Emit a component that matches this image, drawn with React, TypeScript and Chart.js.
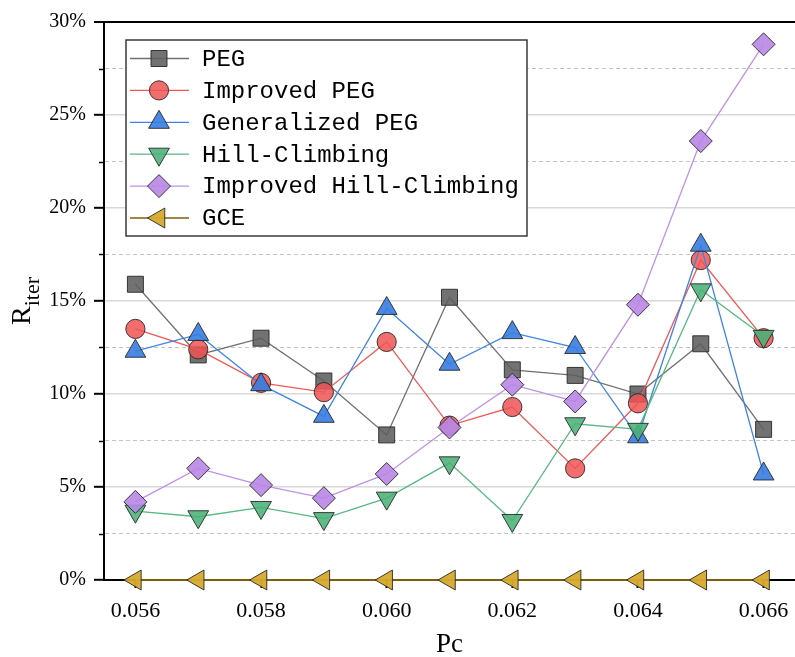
import React, { useEffect, useRef } from 'react';
import { Chart, registerables } from 'chart.js';
import { drawPoint } from 'chart.js/helpers';

Chart.register(...registerables);

// ---- data ----
const pcValues = [0.056, 0.057, 0.058, 0.059, 0.060, 0.061, 0.062, 0.063, 0.064, 0.065, 0.066];
const xTickValues = [0.056, 0.058, 0.060, 0.062, 0.064, 0.066];
const seriesNames = ['PEG', 'Improved PEG', 'Generalized PEG', 'Hill-Climbing', 'Improved Hill-Climbing', 'GCE'];
const pegValues = [15.9, 12.1, 13.0, 10.7, 7.8, 15.2, 11.3, 11.0, 10.0, 12.7, 8.1];
const improvedPegValues = [13.5, 12.4, 10.6, 10.1, 12.8, 8.3, 9.3, 6.0, 9.5, 17.2, 13.0];
const generalizedPegValues = [12.3, 13.2, 10.5, 8.8, 14.6, 11.6, 13.3, 12.5, 7.7, 18.0, 5.7];
const hillClimbingValues = [3.7, 3.4, 3.9, 3.3, 4.4, 6.3, 3.2, 8.4, 8.1, 15.6, 13.1];
const improvedHillClimbingValues = [4.2, 6.0, 5.1, 4.4, 5.7, 8.2, 10.5, 9.6, 14.8, 23.6, 28.8];
const gceValues = [0, 0, 0, 0, 0, 0, 0, 0, 0, 0, 0];
const yMin = 0;
const yMax = 30;
const yStep = 2.5;
const yLabelStep = 5;

const toPoints = (vals: number[]) => pcValues.map((x, i) => ({ x, y: vals[i] }));

const styles = [
  { line: '#707070', fill: 'rgba(95,95,95,0.88)', style: 'rect', rot: 0, r: 11.3 },
  { line: '#f05858', fill: 'rgba(240,85,85,0.85)', style: 'circle', rot: 0, r: 9.6 },
  { line: '#3d84e3', fill: 'rgba(55,125,225,0.9)', style: 'triangle', rot: 0, r: 12 },
  { line: '#55b983', fill: 'rgba(75,178,120,0.88)', style: 'triangle', rot: 180, r: 12 },
  { line: '#bf90ea', fill: 'rgba(185,135,230,0.9)', style: 'rectRot', rot: 0, r: 11.5 },
  { line: '#7d5e08', fill: 'rgba(215,170,45,0.95)', style: 'triangle', rot: -90, r: 11.5 },
];
const seriesValues = [pegValues, improvedPegValues, generalizedPegValues, hillClimbingValues, improvedHillClimbingValues, gceValues];

// stretch the plot area to the right edge of the canvas (as in the reference)
const fullWidth = {
  id: 'fullWidth',
  afterLayout(chart: any) {
    const x = chart.scales.x;
    const target = chart.width;
    const ca = chart.chartArea;
    if (ca.right < target) {
      ca.right = target;
      ca.width = ca.right - ca.left;
      x.right = target;
      x.width = x.right - x.left;
      x.configure();
    }
  },
};

const boxLegend = {
  id: 'boxLegend',
  afterDatasetsDraw(chart: any) {
    const { ctx, chartArea } = chart;
    const left = chartArea.left + 22;
    const top = chartArea.top + 18;
    const w = 401;
    const h = 196;
    ctx.save();
    ctx.fillStyle = '#ffffff';
    ctx.fillRect(left, top, w, h);
    ctx.strokeStyle = '#3a3a3a';
    ctx.lineWidth = 1.5;
    ctx.strokeRect(left, top, w, h);
    chart.data.datasets.forEach((ds: any, i: number) => {
      const y = top + 18.5 + i * 31.9;
      ctx.strokeStyle = ds.borderColor;
      ctx.lineWidth = 1.3;
      ctx.beginPath();
      ctx.moveTo(left + 4, y);
      ctx.lineTo(left + 63, y);
      ctx.stroke();
      ctx.fillStyle = ds.pointBackgroundColor;
      ctx.strokeStyle = ds.pointBorderColor;
      ctx.lineWidth = ds.pointBorderWidth;
      drawPoint(ctx, { pointStyle: ds.pointStyle, rotation: ds.pointRotation, radius: ds.pointRadius, borderWidth: ds.pointBorderWidth } as any, left + 33, y);
      ctx.fillStyle = '#000';
      ctx.font = '24px "Liberation Mono"';
      ctx.textBaseline = 'middle';
      ctx.textAlign = 'left';
      ctx.fillText(ds.label, left + 76, y + 1);
    });
    ctx.restore();
  },
};

const axisExtras = {
  id: 'axisExtras',
  afterDraw(chart: any) {
    const { ctx, chartArea } = chart;
    const yScale = chart.scales.y;
    ctx.save();
    // minor ticks
    ctx.strokeStyle = '#000';
    ctx.lineWidth = 1.5;
    yScale.ticks.forEach((t: any) => {
      if (Math.abs(t.value % yLabelStep) > 1e-6) {
        const py = Math.round(yScale.getPixelForValue(t.value)) + 0.5;
        ctx.beginPath();
        ctx.moveTo(chartArea.left - 5, py);
        ctx.lineTo(chartArea.left, py);
        ctx.stroke();
      }
    });
    // y-axis title with subscript
    const cy = (chartArea.top + chartArea.bottom) / 2;
    ctx.translate(30, cy);
    ctx.rotate(-Math.PI / 2);
    ctx.fillStyle = '#000';
    ctx.textBaseline = 'alphabetic';
    ctx.textAlign = 'left';
    ctx.font = '28px "Liberation Serif"';
    const wR = ctx.measureText('R').width;
    ctx.font = '22px "Liberation Serif"';
    const wI = ctx.measureText('iter').width;
    const sx = -(wR + wI) / 2;
    ctx.font = '28px "Liberation Serif"';
    ctx.fillText('R', sx, 0);
    ctx.font = '22px "Liberation Serif"';
    ctx.fillText('iter', sx + wR, 9);
    ctx.restore();
  },
};

const isMajor = (v: number) => Math.abs(v % yLabelStep) < 1e-6;

export default function App() {
  const ref = useRef<HTMLCanvasElement | null>(null);
  useEffect(() => {
    if (!ref.current) return;
    Chart.defaults.font.family = '"Liberation Serif"';
    Chart.defaults.color = '#000';
    const n = seriesNames.length;
    const chart = new Chart(ref.current, {
      type: 'line',
      data: {
        datasets: seriesNames.map((name, i) => ({
          label: name,
          data: toPoints(seriesValues[i]),
          borderColor: styles[i].line,
          borderWidth: i === 5 ? 2.2 : 1.3,
          backgroundColor: styles[i].fill,
          pointBackgroundColor: styles[i].fill,
          pointBorderColor: 'rgba(40,40,40,0.9)',
          pointBorderWidth: 1,
          pointStyle: styles[i].style as any,
          pointRotation: styles[i].rot,
          pointRadius: styles[i].r,
          pointHoverRadius: styles[i].r,
          tension: 0,
          fill: false,
          clip: false as any,
          order: n - i,
        })),
      },
      options: {
        responsive: false,
        animation: false,
        devicePixelRatio: 1,
        events: [],
        layout: { padding: { top: 22, right: 0, left: 0, bottom: 0 } },
        plugins: { legend: { display: false }, tooltip: { enabled: false } },
        scales: {
          x: {
            type: 'linear',
            min: 0.0555,
            max: 0.0665,
            afterBuildTicks: (scale: any) => {
              scale.ticks = xTickValues.map((v) => ({ value: v }));
            },
            afterFit: (scale: any) => {
              scale.height = 77;
              scale.paddingLeft = 0;
              scale.paddingRight = 0;
            },
            ticks: {
              callback: (v: any) => Number(v).toFixed(3),
              font: { size: 22 },
              padding: 10,
              maxRotation: 0,
              autoSkip: false,
              color: '#000',
            },
            grid: { drawOnChartArea: false, drawTicks: true, tickLength: 8, tickColor: '#000', tickWidth: 2 },
            border: { color: '#000', width: 2 },
            title: { display: true, text: 'Pc', font: { size: 27, lineHeight: 0.9 }, padding: { top: 0, bottom: 0 }, color: '#000' },
          },
          y: {
            min: yMin,
            max: yMax,
            afterFit: (scale: any) => {
              scale.width = 104;
              scale.paddingTop = 0;
              scale.paddingBottom = 0;
            },
            ticks: {
              stepSize: yStep,
              autoSkip: false,
              callback: (v: any) => (isMajor(Number(v)) ? `${v}%` : ''),
              font: { size: 20 },
              padding: 8,
              color: '#000',
            },
            grid: {
              color: (c: any) => {
                const v = c.tick ? c.tick.value : 0;
                if (Math.abs(v - yMax) < 1e-6) return '#000';
                return isMajor(v) ? '#d8d8d8' : '#c4c4c4';
              },
              lineWidth: (c: any) => {
                const v = c.tick ? c.tick.value : 0;
                if (Math.abs(v - yMax) < 1e-6) return 2;
                return isMajor(v) ? 1.6 : 1;
              },
              tickLength: 10,
              tickColor: (c: any) => {
                const v = c.tick ? c.tick.value : 0;
                return isMajor(v) ? '#000' : 'rgba(0,0,0,0)';
              },
              tickWidth: 2,
            },
            border: {
              color: '#000',
              width: 2,
              dash: (c: any) => {
                if (!c.tick) return [];
                return isMajor(c.tick.value) ? [] : [4, 3];
              },
            } as any,
          },
        },
      },
      plugins: [fullWidth, boxLegend, axisExtras],
    });
    return () => chart.destroy();
  }, []);
  return (
    <div style={{ position: 'absolute', left: 0, top: 0, width: 795, height: 657, background: '#fff' }}>
      <canvas ref={ref} width={795} height={657} style={{ width: 795, height: 657, display: 'block' }} />
    </div>
  );
}
